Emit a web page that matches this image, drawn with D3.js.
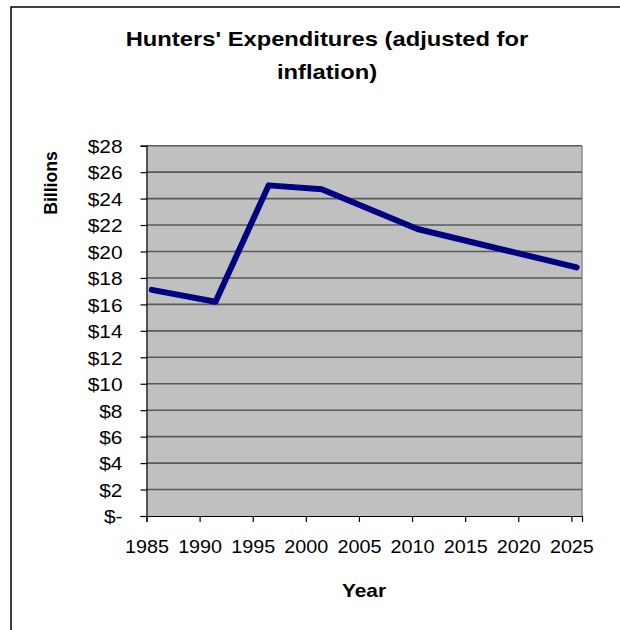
<!DOCTYPE html>
<html>
<head>
<meta charset="utf-8">
<script src="https://cdn.jsdelivr.net/npm/d3@7"></script>
<style>
  html, body { margin: 0; padding: 0; background: #fff; }
  text { font-family: "Liberation Sans", Arial, sans-serif; fill: #000; }
</style>
</head>
<body>
<svg id="chart" width="620" height="630"></svg>
<script>
// ---- data ----
const years = [1985.5, 1991.5, 1996.5, 2001.5, 2010.5, 2025.5];
const expenditures = [17.1, 16.2, 25.0, 24.7, 21.7, 18.8];
const xTickValues = [1985, 1990, 1995, 2000, 2005, 2010, 2015, 2020, 2025];
const yTickValues = [0, 2, 4, 6, 8, 10, 12, 14, 16, 18, 20, 22, 24, 26, 28];
const titleLines = ["Hunters' Expenditures (adjusted for", "inflation)"];
const xTitle = "Year";
const yTitle = "Billions";

const svg = d3.select("#chart");

// stretch text horizontally (reference text is wide)
function stretch(sel, f) {
  sel.each(function () {
    const w = this.getComputedTextLength();
    d3.select(this).attr("textLength", w * f).attr("lengthAdjust", "spacingAndGlyphs");
  });
}

// outer frame
svg.append("rect")
  .attr("x", 11).attr("y", 7).attr("width", 640).attr("height", 660)
  .attr("fill", "none").attr("stroke", "#000").attr("stroke-width", 1.5);

const plot = { left: 146.5, right: 582, top: 145.7, bottom: 516 };

const x = d3.scaleLinear().domain([1985, 2026]).range([plot.left, plot.right]);
const y = d3.scaleLinear().domain([0, 28]).range([plot.bottom, plot.top]);

// plot background
svg.append("rect")
  .attr("x", plot.left).attr("y", plot.top)
  .attr("width", plot.right - plot.left).attr("height", plot.bottom - plot.top)
  .attr("fill", "#C0C0C0");

// right border of plot area
svg.append("line")
  .attr("x1", plot.right).attr("x2", plot.right)
  .attr("y1", plot.top).attr("y2", plot.bottom)
  .attr("stroke", "#8c8c8c").attr("stroke-width", 1.5);

// gridlines
svg.append("g")
  .selectAll("line")
  .data(yTickValues.filter(d => d > 0))
  .join("line")
  .attr("x1", plot.left).attr("x2", plot.right)
  .attr("y1", d => y(d)).attr("y2", d => y(d))
  .attr("stroke", "#5a5a5a").attr("stroke-width", 1.6);

// y axis
const yAxis = svg.append("g")
  .attr("transform", `translate(${plot.left},0)`)
  .call(d3.axisLeft(y).tickValues(yTickValues).tickSize(6).tickPadding(18)
    .tickFormat(d => d === 0 ? "$-" : "$" + d));
yAxis.select(".domain").attr("stroke", "#000").attr("stroke-width", 1.2);
yAxis.selectAll(".tick line").attr("stroke", "#000").attr("stroke-width", 1.2);
yAxis.selectAll("text")
  .attr("font-size", 19).attr("fill", "#000")
  .attr("font-family", "Liberation Sans, Arial, sans-serif")
  .attr("dy", "0.36em");
stretch(yAxis.selectAll("text"), 1.1);

// x axis
const xAxis = svg.append("g")
  .attr("transform", `translate(0,${plot.bottom})`)
  .call(d3.axisBottom(x).tickValues(xTickValues).tickSize(6).tickPadding(18)
    .tickFormat(d3.format("d")));
xAxis.select(".domain").attr("stroke", "#000").attr("stroke-width", 1.2);
xAxis.selectAll(".tick line").attr("stroke", "#000").attr("stroke-width", 1.2);
xAxis.selectAll("text")
  .attr("font-size", 19).attr("fill", "#000")
  .attr("font-family", "Liberation Sans, Arial, sans-serif");
stretch(xAxis.selectAll("text"), 1.04);

// data line
const line = d3.line().x((d, i) => x(years[i])).y(d => y(d));
svg.append("path")
  .datum(expenditures)
  .attr("d", line)
  .attr("fill", "none")
  .attr("stroke", "#000080")
  .attr("stroke-width", 6)
  .attr("stroke-linejoin", "round")
  .attr("stroke-linecap", "round");

// title
const title = svg.append("g");
title.selectAll("text")
  .data(titleLines)
  .join("text")
  .attr("x", 327)
  .attr("y", (d, i) => 46 + i * 33)
  .attr("text-anchor", "middle")
  .attr("font-size", 21)
  .attr("font-weight", "bold")
  .text(d => d);
stretch(title.selectAll("text"), 1.13);

// axis titles
const xt = svg.append("text")
  .attr("x", 364).attr("y", 597)
  .attr("text-anchor", "middle")
  .attr("font-size", 19).attr("font-weight", "bold")
  .text(xTitle);
stretch(xt, 1.1);

const yt = svg.append("text")
  .attr("transform", "translate(57,183) rotate(-90)")
  .attr("text-anchor", "middle")
  .attr("font-size", 18).attr("font-weight", "bold")
  .text(yTitle);
stretch(yt, 0.98);
</script>
</body>
</html>
